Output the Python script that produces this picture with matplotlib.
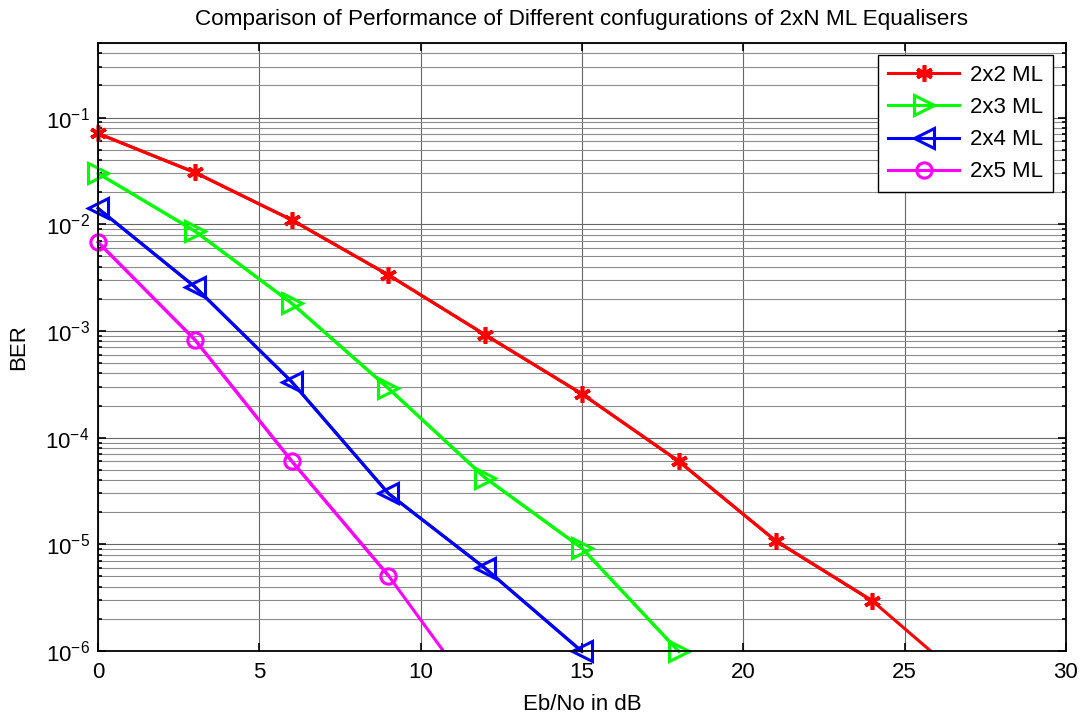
import matplotlib

matplotlib.use("Agg")

import matplotlib.pyplot as plt
from matplotlib.ticker import LogLocator, NullFormatter

plt.rcParams["font.family"] = ["Liberation Sans", "DejaVu Sans"]
plt.rcParams["mathtext.fontset"] = "custom"
plt.rcParams["mathtext.rm"] = "Liberation Sans"
plt.rcParams["mathtext.it"] = "Liberation Sans:italic"
plt.rcParams["mathtext.bf"] = "Liberation Sans:bold"

# Eb/No (dB) and BER
ebno_2x2 = [0, 3, 6, 9, 12, 15, 18, 21, 24, 27]
ber_2x2 = [0.071, 0.0306, 0.011, 0.00335, 9.2e-4, 2.57e-4, 6.0e-5, 1.08e-5, 2.95e-6, 4.9e-7]

ebno_2x3 = [0, 3, 6, 9, 12, 15, 18]
ber_2x3 = [0.030, 0.00865, 0.00182, 2.9e-4, 4.2e-5, 9.2e-6, 9.9e-7]

ebno_2x4 = [0, 3, 6, 9, 12, 15]
ber_2x4 = [0.0141, 0.0026, 3.35e-4, 3.0e-5, 5.96e-6, 9.9e-7]

ebno_2x5 = [0, 3, 6, 9, 12]
ber_2x5 = [0.0068, 8.3e-4, 6.05e-5, 5.1e-6, 2.9e-7]

YMIN, YMAX = 9.5e-7, 0.5

series = [
    ("2x2 ML", ebno_2x2, ber_2x2, (1, 0, 0), dict(marker=(6, 2, 0), markersize=12, markeredgewidth=2.6)),
    ("2x3 ML", ebno_2x3, ber_2x3, (0, 1, 0), dict(marker=">", markersize=14, markerfacecolor="none", markeredgewidth=2.2)),
    ("2x4 ML", ebno_2x4, ber_2x4, (0, 0, 1), dict(marker="<", markersize=14, markerfacecolor="none", markeredgewidth=2.2)),
    ("2x5 ML", ebno_2x5, ber_2x5, (1, 0, 1), dict(marker="o", markersize=11, markerfacecolor="none", markeredgewidth=2.2)),
]

fig = plt.figure(figsize=(10.8, 7.14), dpi=100)
ax = fig.add_axes([0.0907, 0.0882, 0.8963, 0.8516])

lw = 2.2
for label, x, y, color, mk in series:
    # full line, clipped at the axes like the original
    ax.semilogy(x, y, color=color, lw=lw)
    # markers that fall inside the y range, drawn unclipped
    vx = [a for a, b in zip(x, y) if b >= YMIN]
    vy = [b for b in y if b >= YMIN]
    ax.semilogy(vx, vy, color=color, lw=lw, clip_on=False, label=label, **mk)

ax.set_xlim(0, 30)
ax.set_ylim(1e-6, YMAX)
ax.set_xticks([0, 5, 10, 15, 20, 25, 30])
ax.yaxis.set_major_locator(LogLocator(base=10, numticks=10))
ax.yaxis.set_minor_locator(LogLocator(base=10, subs=range(2, 10), numticks=20))
ax.yaxis.set_minor_formatter(NullFormatter())

ax.grid(True, which="major", color="0.4", lw=0.8)
ax.grid(True, which="minor", axis="y", color="0.55", lw=0.8)
ax.set_axisbelow(True)

ax.tick_params(which="both", direction="in", top=True, right=True,
               labelsize=16, width=1.2)
ax.tick_params(which="major", length=6)
ax.tick_params(axis="x", which="major", pad=8)
ax.tick_params(axis="y", which="major", pad=6)
ax.tick_params(which="minor", length=3)
for s in ax.spines.values():
    s.set_linewidth(1.3)

ax.set_title("Comparison of Performance of Different confugurations of 2xN ML Equalisers",
             fontsize=16.2, pad=13)
ax.set_xlabel("Eb/No in dB", fontsize=16, labelpad=8)
ax.set_ylabel("BER", fontsize=16, labelpad=12)

leg = ax.legend(loc="upper right", fontsize=16, fancybox=False, framealpha=1,
                edgecolor="black", handlelength=3.2, handletextpad=0.5,
                borderpad=0.45, labelspacing=0.5, borderaxespad=0,
                bbox_to_anchor=(0.987, 0.98))
leg.get_frame().set_linewidth(1.0)

fig.savefig("out.png", dpi=100)
